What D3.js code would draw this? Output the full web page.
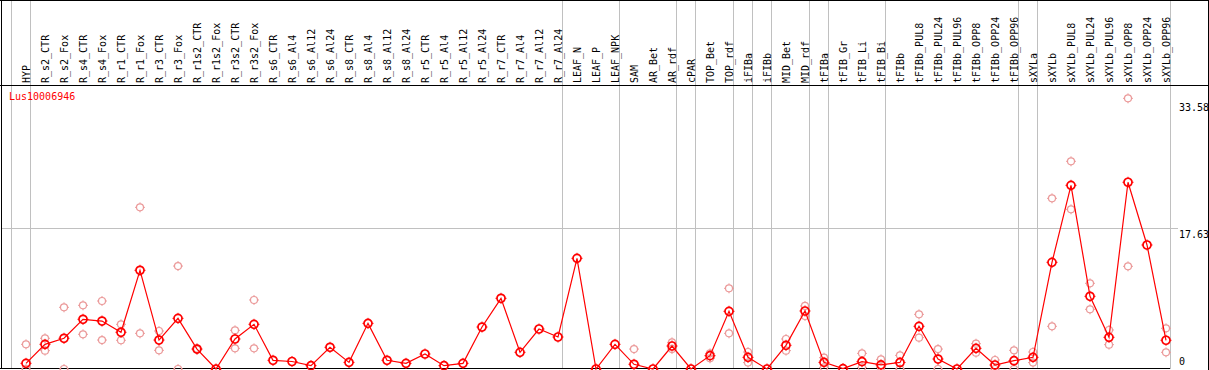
<!DOCTYPE html>
<html lang='en'>
<head>
  <meta charset='UTF-8'>
  <title>Lus10006946</title>
  <script src="https://d3js.org/d3.v7.min.js"></script>
  <style>
    html, body { margin: 0; padding: 0; background: #fff; }
    svg { display: block; }
    text { font-family: 'DejaVu Sans Mono', monospace; font-size: 10px; }
  </style>
</head>
<body>
  <div id="chart"></div>
  <script>
    const geneId = 'Lus10006946';

    const categories = [
      'HYP', 'R_s2_CTR', 'R_s2_Fox', 'R_s4_CTR', 'R_s4_Fox', 'R_r1_CTR', 'R_r1_Fox',
      'R_r3_CTR', 'R_r3_Fox', 'R_r1s2_CTR', 'R_r1s2_Fox', 'R_r3s2_CTR', 'R_r3s2_Fox',
      'R_s6_CTR', 'R_s6_Al4', 'R_s6_Al12', 'R_s6_Al24', 'R_s8_CTR', 'R_s8_Al4',
      'R_s8_Al12', 'R_s8_Al24', 'R_r5_CTR', 'R_r5_Al4', 'R_r5_Al12', 'R_r5_Al24',
      'R_r7_CTR', 'R_r7_Al4', 'R_r7_Al12', 'R_r7_Al24', 'LEAF_N', 'LEAF_P', 'LEAF_NPK',
      'SAM', 'AR_Bet', 'AR_rdf', 'cPAR', 'TOP_Bet', 'TOP_rdf', 'iFIBa', 'iFIBb',
      'MID_Bet', 'MID_rdf', 'tFIBa', 'tFIB_Gr', 'tFIB_Li', 'tFIB_Bi', 'tFIBb',
      'tFIBb_PUL8', 'tFIBb_PUL24', 'tFIBb_PUL96', 'tFIBb_OPP8', 'tFIBb_OPP24', 'tFIBb_OPP96',
      'sXYLa', 'sXYLb', 'sXYLb_PUL8', 'sXYLb_PUL24', 'sXYLb_PUL96', 'sXYLb_OPP8',
      'sXYLb_OPP24', 'sXYLb_OPP96'
    ];

    // mean per sample
    const means = [
      0.71, 3.09, 3.85, 6.23, 6.01, 4.6, 12.37, 3.63, 6.35, 2.5, 0, 3.76, 5.6,
      1.09, 0.94, 0.42, 2.72, 0.83, 5.72, 1.09, 0.71, 1.88, 0.42, 0.71, 5.26,
      8.86, 2.09, 5.01, 4.01, 13.87, 0, 3.09, 0.59, 0, 2.88, 0, 1.67, 7.23,
      1.46, 0, 2.97, 7.27, 0.83, 0.05, 0.92, 0.52, 0.82, 5.35, 1.25, 0, 2.59,
      0.5, 1.04, 1.46, 13.37, 23.02, 9.11, 3.97, 23.4, 15.54, 3.6
    ];

    // replicate values per sample
    const replicates = [
      [3.09, 0], [3.85, 2.3], [7.73, 0], [7.98, 4.35], [8.52, 3.63], [5.6, 3.6],
      [20.26, 4.47], [4.76, 2.34], [12.9, 0], [2.55, 2.45], [0], [4.85, 2.59], [8.65, 2.59],
      [], [], [], [], [], [], [], [], [], [], [], [], [], [], [], [], [], [], [],
      [2.5], [], [3.34, 2.5], [], [1.96, 1.34], [10.11, 4.47], [2.13, 0.8], [],
      [3.76, 2.3], [7.9, 6.64], [1.42, 0.2], [], [1.96, 0.2], [1.21, 0.2], [1.71, 0],
      [6.85, 3.93], [2.5, 0], [], [3.17, 2.05], [1.13, 0], [2.34, 0], [2.13, 0.8],
      [21.39, 5.35], [26.03, 20.01], [10.74, 7.48], [4.89, 3.05], [33.92, 12.87], [],
      [5.1, 2.09]
    ];

    // index of the last sample in each group
    const groupEnds = [0, 28, 31, 34, 35, 37, 38, 39, 41, 42, 45, 52, 53, 60];
    const yLabels = [33.58, 17.63, 0];
    const yGrid = [17.63];

    const W = 1209, H = 370;
    const headerH = 85, plotBottom = 369, plotLeft = 11, plotRight = 1170;

    const svg = d3.select('#chart').append('svg')
      .attr('width', W).attr('height', H);

    const x = d3.scaleBand().domain(categories).range([plotLeft, plotRight]).padding(0);
    const px = (c) => x(c) + 15;
    const y = d3.scaleLinear().domain([0, 35.59]).range([plotBottom, headerH]);

    // vertical group separators
    const sepX = [plotLeft].concat(groupEnds.map((i) => x(categories[i]) + x.bandwidth()));
    svg.append('g').selectAll('line').data(sepX).join('line')
      .attr('x1', (d) => Math.round(d) + 0.5).attr('x2', (d) => Math.round(d) + 0.5)
      .attr('y1', 0).attr('y2', plotBottom)
      .attr('stroke', '#c0c0c0');

    // horizontal grid
    svg.append('g').selectAll('line').data(yGrid).join('line')
      .attr('x1', 1).attr('x2', 1178)
      .attr('y1', (d) => Math.round(y(d)) + 0.5).attr('y2', (d) => Math.round(y(d)) + 0.5)
      .attr('stroke', '#c0c0c0');

    // frame
    svg.append('line').attr('x1', 0).attr('x2', W).attr('y1', 0.5).attr('y2', 0.5).attr('stroke', '#000');
    svg.append('line').attr('x1', 0).attr('x2', W).attr('y1', headerH + 0.5).attr('y2', headerH + 0.5).attr('stroke', '#000');
    svg.append('line').attr('x1', 1.5).attr('x2', 1.5).attr('y1', 0).attr('y2', plotBottom).attr('stroke', '#000');
    svg.append('line').attr('x1', W - 0.5).attr('x2', W - 0.5).attr('y1', 0).attr('y2', H).attr('stroke', '#000');
    svg.append('line').attr('x1', 0).attr('x2', plotRight).attr('y1', plotBottom - 0.5).attr('y2', plotBottom - 0.5).attr('stroke', '#000');

    // header labels
    svg.append('g').selectAll('text').data(categories).join('text')
      .attr('transform', (d) => `translate(${px(d) + 3.5},83) rotate(-90)`)
      .attr('fill', '#000')
      .text((d) => d);

    // y labels
    svg.append('g').selectAll('text').data(yLabels).join('text')
      .attr('x', 1179)
      .attr('y', (d) => Math.min(y(d) + 9.5, 365))
      .attr('fill', '#000')
      .text((d) => d);

    svg.append('text')
      .attr('x', 9).attr('y', 100)
      .attr('fill', '#ff0000')
      .text(geneId);

    const marker = (g, r, color, sw) => {
      g.append('circle').attr('r', r).attr('fill', 'none').attr('stroke', color).attr('stroke-width', sw);
      g.append('path')
        .attr('d', `M0,${-r - 1.5}V${-r}M0,${r}V${r + 1.5}M${-r - 1.5},0H${-r}M${r},0H${r + 1.5}`)
        .attr('stroke', color).attr('stroke-width', 1);
    };

    // replicates
    const repData = [];
    replicates.forEach((vals, i) => vals.forEach((v) => repData.push({ c: categories[i], v })));
    svg.append('g').selectAll('g').data(repData).join('g')
      .attr('transform', (d) => `translate(${px(d.c)},${y(d.v)})`)
      .each(function () { marker(d3.select(this), 3.5, '#eb9a9a', 1.2); });

    // mean line
    const line = d3.line()
      .x((d, i) => px(categories[i]))
      .y((d) => y(d));
    svg.append('path').datum(means)
      .attr('fill', 'none').attr('stroke', '#ff0000').attr('stroke-width', 1.2)
      .attr('d', line);

    svg.append('g').selectAll('g').data(means).join('g')
      .attr('transform', (d, i) => `translate(${px(categories[i])},${y(d)})`)
      .each(function () { marker(d3.select(this), 4, '#ff0000', 1.7); });
  </script>
</body>
</html>
